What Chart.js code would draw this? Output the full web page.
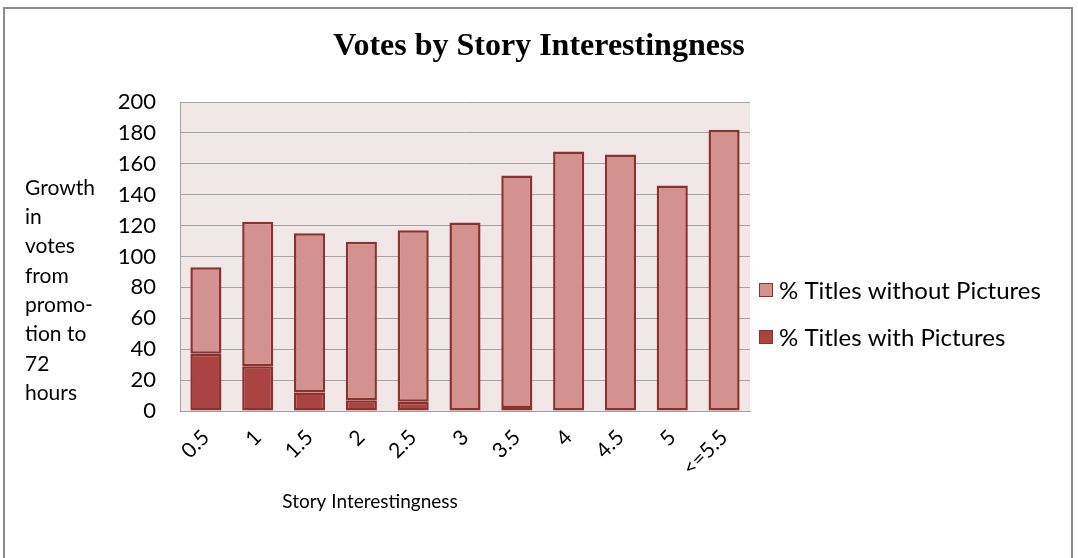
<!DOCTYPE html>
<html>
<head>
<meta charset="utf-8">
<script src="https://cdn.jsdelivr.net/npm/chart.js@4.4.1/dist/chart.umd.min.js"></script>
<style>
body { margin: 0; background: #fff; }
#wrap { width: 1078px; height: 558px; }
</style>
</head>
<body>
<div id="wrap"><canvas id="votes"></canvas></div>
<script>
// Votes by story interestingness, stacked by titles with / without pictures
var categories = ['0.5', '1', '1.5', '2', '2.5', '3', '3.5', '4', '4.5', '5', '<=5.5'];
var withPictures = [37, 29, 12, 7, 6, 0, 2, 0, 0, 0, 0];
var withoutPictures = [56, 93.5, 103, 102.5, 111, 122, 150.5, 168, 166, 146, 182];
var chartTitle = 'Votes by Story Interestingness';
var yTitleLines = ['Growth', 'in', 'votes', 'from', 'promo-', 'tion to', '72', 'hours'];
var xTitle = 'Story Interestingness';

// frame, plot background, titles and the legend at the right
var decor = {
    id: 'decor',
    beforeDraw: function (chart) {
        var c = chart.ctx, a = chart.chartArea;
        c.save();
        c.fillStyle = '#fff';
        c.fillRect(0, 0, chart.width, chart.height);
        c.strokeStyle = '#8c8c8c';
        c.lineWidth = 2;
        c.strokeRect(4, 8, 1068, 560);
        c.fillStyle = '#F2E7E7';
        c.fillRect(a.left, a.top, a.right - a.left, a.bottom - a.top);
        c.restore();
    },
    afterDraw: function (chart) {
        var c = chart.ctx, a = chart.chartArea;
        c.save();
        c.fillStyle = '#000';
        c.textBaseline = 'middle';

        // main title, centred on the whole frame
        c.textAlign = 'center';
        c.font = 'bold 32px "Liberation Serif"';
        c.fillText(chartTitle, chart.width / 2, 47);

        c.textAlign = 'left';
        c.font = '21px Lato';
        yTitleLines.forEach(function (t, i) {
            c.fillText(t, 25, 188 + i * 29.3);
        });
        c.font = '19px Lato';
        c.textAlign = 'center';
        c.fillText(xTitle, a.left + 190, 502);

        // legend, listed top-down in reverse stacking order
        c.textAlign = 'left';
        c.font = '24px Lato';
        var sets = chart.data.datasets.slice().reverse();
        sets.forEach(function (ds, i) {
            var y = 290 + i * 47;
            c.fillStyle = ds.backgroundColor;
            c.fillRect(a.right + 9, y - 7, 14, 14);
            c.strokeStyle = ds.borderColor;
            c.lineWidth = 1;
            c.strokeRect(a.right + 9.5, y - 6.5, 13, 13);
            c.fillStyle = '#000';
            c.fillText(ds.label, a.right + 29, y + 1);
        });
        c.restore();
    }
};

var ctx = document.getElementById('votes').getContext('2d');
var chart = new Chart(ctx, {
    type: 'bar',
    data: {
        labels: categories,
        datasets: [{
            label: '% Titles with Pictures',
            data: withPictures,
            backgroundColor: '#A94442',
            borderColor: '#8B3230',
            borderWidth: 2.5,
            borderSkipped: false
        }, {
            label: '% Titles without Pictures',
            data: withoutPictures,
            backgroundColor: '#D39190',
            borderColor: '#8B3230',
            borderWidth: 2.5,
            borderSkipped: false
        }]
    },
    options: {
        responsive: true,
        maintainAspectRatio: false,
        animation: false,
        datasets: {
            bar: { categoryPercentage: 1, barPercentage: 0.6 }
        },
        layout: {
            padding: { left: 20, right: 328, top: 102, bottom: 37 }
        },
        plugins: {
            legend: { display: false },
            tooltip: { enabled: false }
        },
        scales: {
            x: {
                stacked: true,
                grid: { display: false },
                border: { color: '#a0a0a0' },
                ticks: {
                    color: '#000',
                    font: { family: 'Lato', size: 21 },
                    minRotation: 45,
                    maxRotation: 45,
                    padding: 6
                },
                afterFit: function (s) { s.height = 110; }
            },
            y: {
                stacked: true,
                min: 0,
                max: 200,
                grid: { color: '#a3a3a3', drawTicks: false },
                border: { color: '#a3a3a3' },
                ticks: {
                    stepSize: 20,
                    color: '#000',
                    font: { family: 'Lato', size: 22 },
                    padding: 24
                },
                afterFit: function (s) { s.width = 160; }
            }
        }
    },
    plugins: [decor]
});
</script>
</body>
</html>
